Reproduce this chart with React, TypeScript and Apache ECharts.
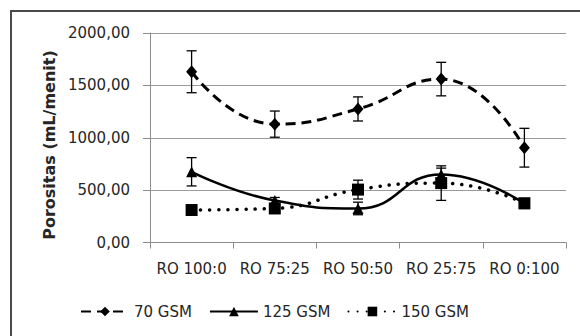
import React, { useEffect, useRef } from "react";
import * as echarts from "echarts";

// Porosity (mL/menit) by RO blend ratio for three fabric weights
const categories = ["RO 100:0", "RO 75:25", "RO 50:50", "RO 25:75", "RO 0:100"];

const gsm70 = [1630, 1130, 1275, 1560, 905];
const gsm70Err = [200, 125, 115, 160, 185];

const gsm125 = [675, 400, 325, 650, 370];
const gsm125Err = [135, 30, 60, 60, 20];

const gsm150 = [310, 325, 505, 567, 375];
const gsm150Err = [20, 20, 90, 165, 20];

const yTicks = [0, 500, 1000, 1500, 2000];

const FONT = "DejaVu Sans";
const TEXT = "#262626";

function errorSeries(values: number[], errs: number[]) {
  return {
    type: "custom",
    z: 1,
    silent: true,
    data: values.map((v, i) => [i, v, errs[i]]),
    renderItem: (_params: any, api: any) => {
      const i = api.value(0);
      const v = api.value(1);
      const e = api.value(2);
      const top = api.coord([i, v + e]);
      const bot = api.coord([i, v - e]);
      const cap = 5;
      const style = { stroke: "#000", lineWidth: 1.3 };
      return {
        type: "group",
        children: [
          { type: "line", shape: { x1: top[0], y1: top[1], x2: bot[0], y2: bot[1] }, style },
          { type: "line", shape: { x1: top[0] - cap, y1: top[1], x2: top[0] + cap, y2: top[1] }, style },
          { type: "line", shape: { x1: bot[0] - cap, y1: bot[1], x2: bot[0] + cap, y2: bot[1] }, style },
        ],
      };
    },
  };
}

export default function App() {
  const ref = useRef<HTMLDivElement>(null);

  useEffect(() => {
    if (!ref.current) return;
    const chart = echarts.init(ref.current, null, { renderer: "svg" });
    chart.setOption({
      animation: false,
      backgroundColor: "#fff",
      textStyle: { fontFamily: FONT },
      graphic: [
        {
          type: "rect",
          shape: { x: 11, y: 11, width: 620, height: 400 },
          style: { fill: "none", stroke: "#4a4a4a", lineWidth: 2 },
          silent: true,
        },
        {
          type: "text",
          x: 49,
          y: 145,
          rotation: Math.PI / 2,
          style: {
            text: "Porositas (mL/menit)",
            fontFamily: FONT,
            fontWeight: "bold",
            fontSize: 16,
            fill: TEXT,
            align: "center",
            verticalAlign: "middle",
          },
          silent: true,
        },
      ],
      grid: { left: 150, right: 14, top: 33, bottom: 93.5 },
      legend: {
        data: ["70 GSM", "125 GSM", "150 GSM"],
        left: 75,
        top: 299,
        itemWidth: 48,
        itemHeight: 12,
        itemGap: 17,
        textStyle: { fontFamily: FONT, fontSize: 15, color: TEXT },
      },
      xAxis: {
        type: "category",
        data: categories,
        boundaryGap: true,
        axisLine: { lineStyle: { color: "#8c8c8c", width: 1 } },
        axisTick: { show: true, length: 6, lineStyle: { color: "#8c8c8c" } },
        axisLabel: { interval: 0, fontFamily: FONT, fontSize: 15, color: TEXT, margin: 19 },
      },
      yAxis: {
        type: "value",
        min: yTicks[0],
        max: yTicks[yTicks.length - 1],
        interval: 500,
        axisLine: { show: true, lineStyle: { color: "#8c8c8c", width: 1 } },
        axisTick: { show: true, length: 7, lineStyle: { color: "#8c8c8c" } },
        splitLine: { lineStyle: { color: "#9a9a9a", width: 1 } },
        axisLabel: {
          fontFamily: FONT,
          fontSize: 15,
          color: TEXT,
          margin: 20,
          formatter: (v: number) => v.toFixed(2).replace(".", ","),
        },
      },
      series: [
        errorSeries(gsm70, gsm70Err),
        errorSeries(gsm125, gsm125Err),
        errorSeries(gsm150, gsm150Err),
        {
          name: "70 GSM",
          type: "line",
          z: 3,
          data: gsm70,
          smooth: 0.5,
          symbol: "diamond",
          symbolSize: [11, 13],
          itemStyle: { color: "#000" },
          lineStyle: { color: "#000", width: 3, type: [10, 6] },
        },
        {
          name: "125 GSM",
          type: "line",
          z: 3,
          data: gsm125,
          smooth: 0.5,
          symbol: "triangle",
          symbolSize: [11, 11],
          itemStyle: { color: "#000" },
          lineStyle: { color: "#000", width: 2.5 },
        },
        {
          name: "150 GSM",
          type: "line",
          z: 4,
          data: gsm150,
          smooth: 0.5,
          symbol: "rect",
          symbolSize: 12,
          itemStyle: { color: "#000" },
          lineStyle: { color: "#000", width: 3.5, type: [0.1, 9], cap: "round" },
        },
      ],
    });
    return () => chart.dispose();
  }, []);

  return (
    <div
      ref={ref}
      style={{ position: "fixed", left: 0, top: 0, width: 580, height: 336, background: "#fff" }}
    />
  );
}
